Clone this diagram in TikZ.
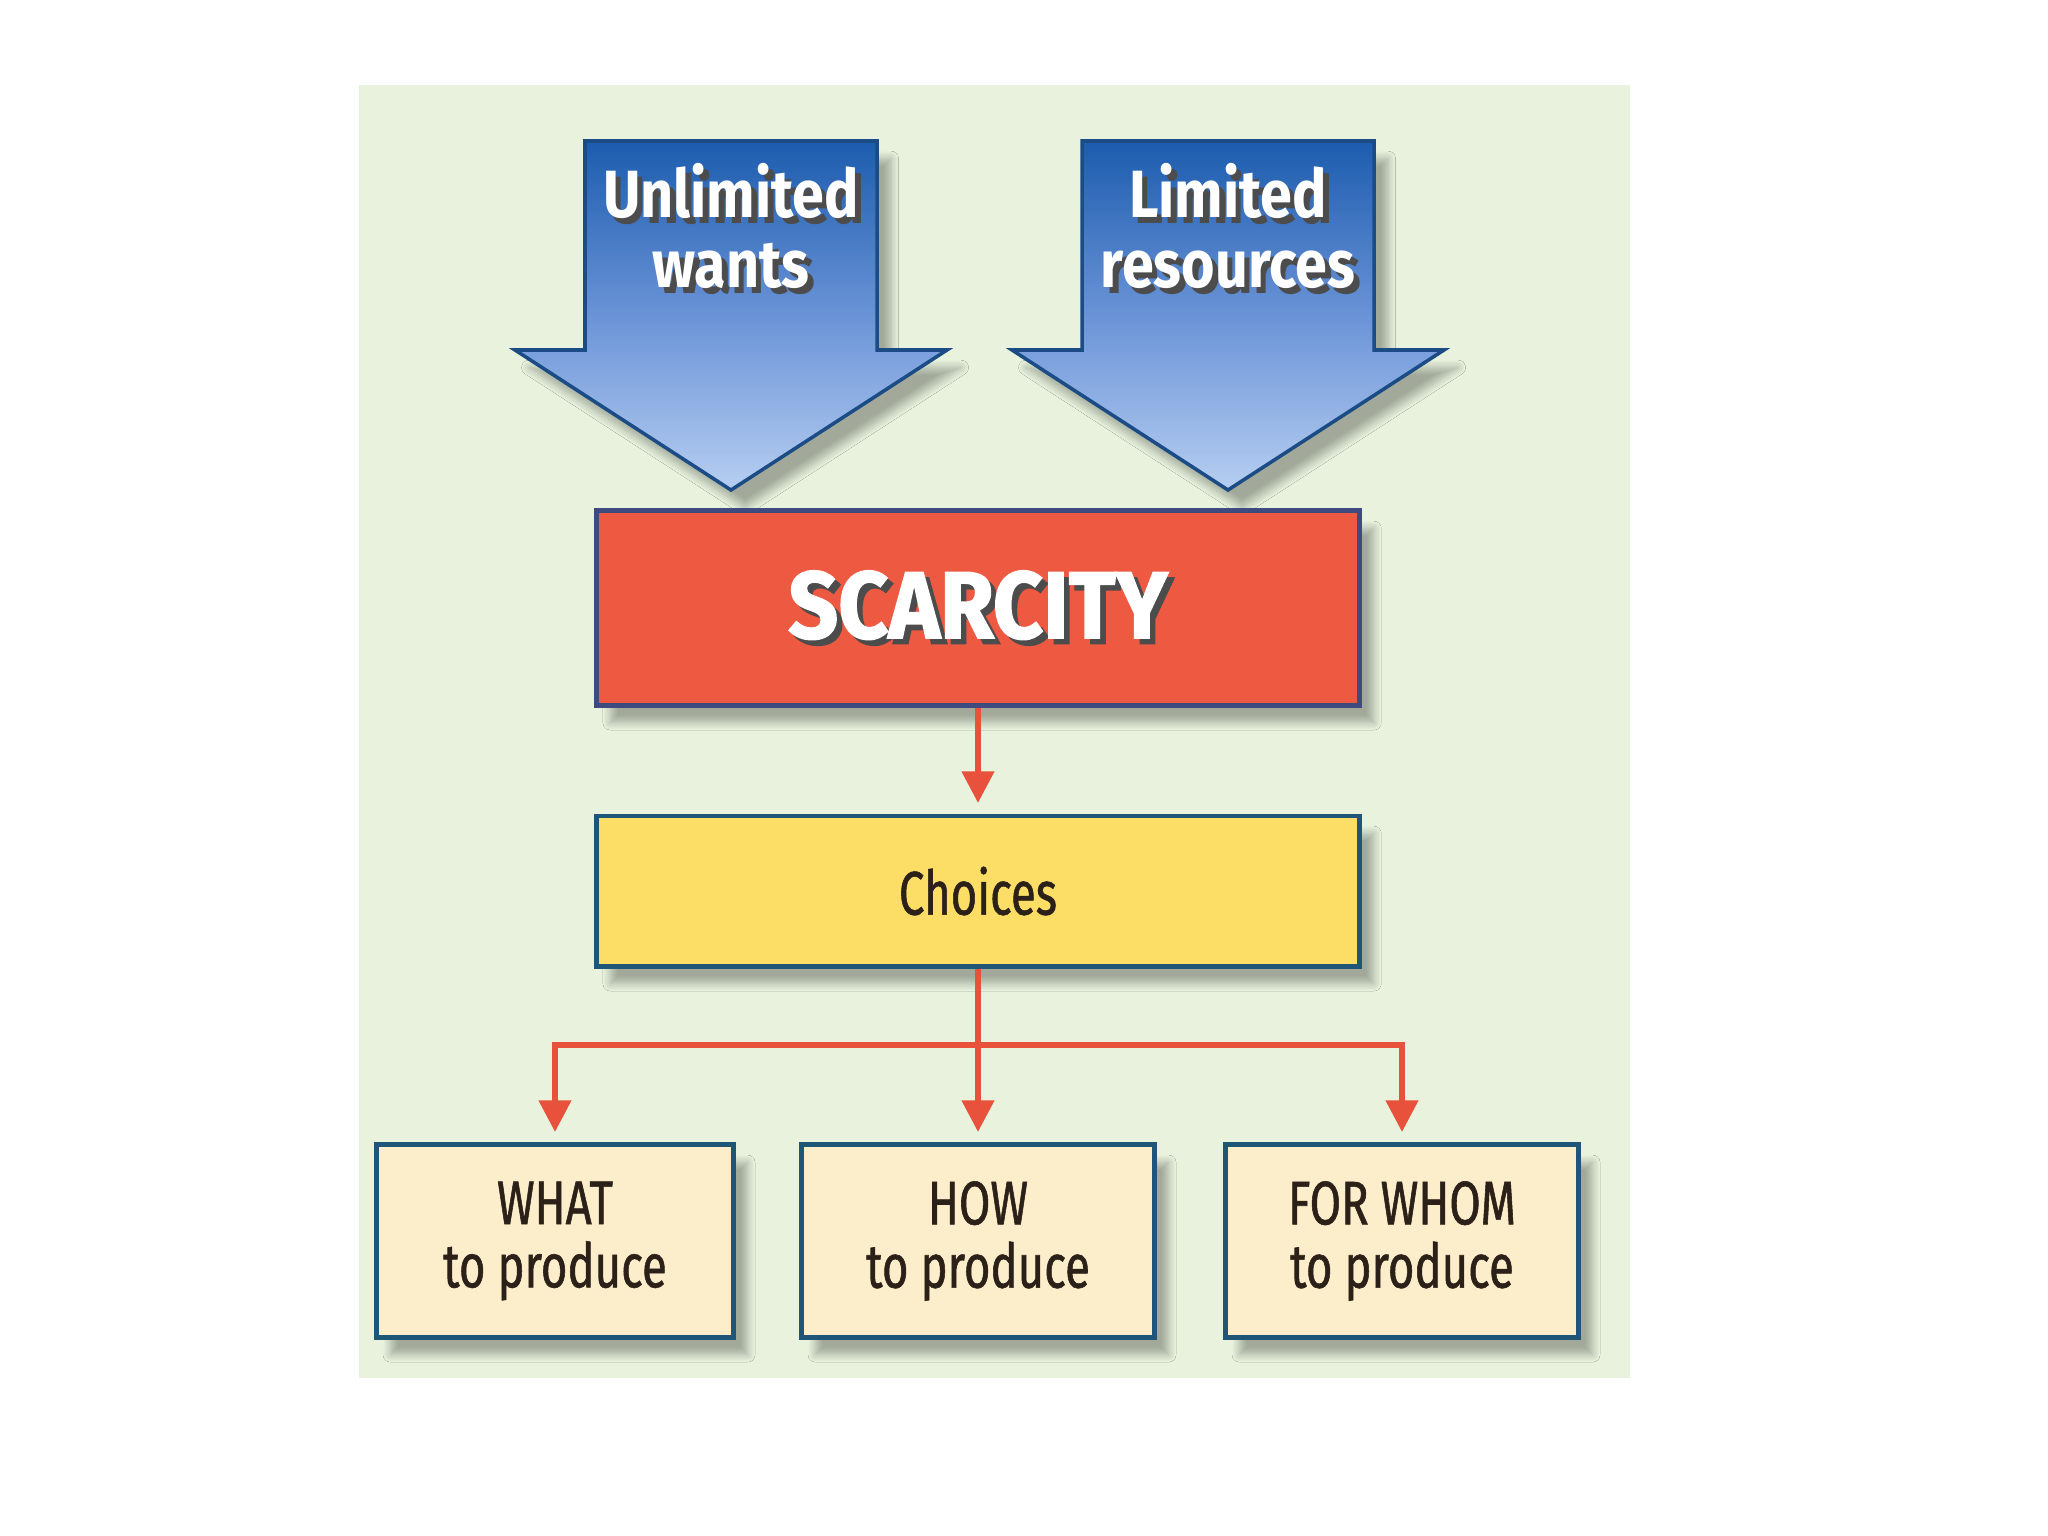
\documentclass[tikz,border=0pt]{standalone}
\usepackage{fontspec}
\setmainfont{Fira Sans}[FakeStretch=0.76]
\newfontfamily\arrowfont{Fira Sans}[FakeStretch=0.86]
\newfontfamily\heavyfont{Fira Sans}[FakeStretch=0.92, FakeBold=1.6]
\newfontfamily\boxfont{Fira Sans}[FakeStretch=0.74, FakeBold=0.9]
\usetikzlibrary{positioning,shadows.blur,arrows.meta}
\definecolor{panelbg}{HTML}{E8F2DD}
\definecolor{arrowtop}{HTML}{1C5CAE}
\definecolor{arrowmid}{HTML}{6A93D7}
\definecolor{arrowbot}{HTML}{B6CEF1}
\definecolor{arrowline}{HTML}{1B4C86}
\definecolor{scarred}{HTML}{EE5941}
\definecolor{scarline}{HTML}{3F4A7E}
\definecolor{choiceyel}{HTML}{FCDD66}
\definecolor{boxline}{HTML}{1F5576}
\definecolor{cream}{HTML}{FDEECB}
\definecolor{linkred}{HTML}{E8513B}
\definecolor{inkdark}{HTML}{2B2118}
\tikzset{>={Triangle[width=9pt,length=9pt]}}
\newcommand\shadowed[1]{\makebox[0pt][l]{\kern1.6pt\raisebox{-1.6pt}{\color{black!70}#1}}#1}
\tikzset{
  softshadow/.style={blur shadow={shadow xshift=4pt,shadow yshift=-5pt,shadow blur steps=8,shadow opacity=30}},
  box/.style={draw=boxline, line width=1.4pt, softshadow, text=inkdark, align=center,
    font=\boxfont\fontsize{17.5}{18}\selectfont},
  smallbox/.style={box, fill=cream, minimum width=3.53cm, minimum height=1.92cm},
  arrowtext/.style={text=white, align=center, font=\arrowfont\fontsize{19}{20}\selectfont\bfseries},
  link/.style={linkred, line width=1.6pt},
  downarrow/.pic={
    \draw[arrowline, line width=1pt, softshadow, top color=arrowtop, bottom color=arrowbot, middle color=arrowmid]
      (-146,141) -- (146,141) -- (146,350) -- (216,350) -- (0,490) -- (-216,350) -- (-146,350) -- cycle;
  }
}
\begin{document}
\begin{tikzpicture}[x=0.01cm,y=-0.01cm]
\useasboundingbox (0,0) rectangle (2048,1536);
\fill[panelbg] (359,85) rectangle (1630,1378);
\pic at (731,0) {downarrow};
\pic at (1228,0) {downarrow};
\node[arrowtext] (wants) at (731,229) {\shadowed{Unlimited}\\\shadowed{wants}};
\node[arrowtext] (resources) at (1228,229) {\shadowed{Limited}\\\shadowed{resources}};
\node[box, fill=scarred, draw=scarline, minimum width=7.63cm, minimum height=1.94cm, text=white,
  font=\heavyfont\fontsize{27}{30}\selectfont\bfseries] (scarcity) at (978,608) {\shadowed{SCARCITY}};
\node[box, fill=choiceyel, minimum width=7.63cm, minimum height=1.5cm] (choices) at (978,891) {Choices};
\node[smallbox, minimum width=3.57cm] (what) at (555,1241) {WHAT\\to produce};
\node[smallbox] (how) at (978,1241) {HOW\\to produce};
\node[smallbox] (forwhom) at (1402,1241) {FOR WHOM\\to produce};
\coordinate (split) at (choices.south |- 0,1045);
\draw[link, ->, shorten >=3pt] (scarcity) -- (choices);
\draw[link, ->, shorten >=3pt] (choices) -- (how);
\draw[link, ->, shorten >=3pt] (split) -| (what);
\draw[link, ->, shorten >=3pt] (split) -| (forwhom);
\end{tikzpicture}
\end{document}
